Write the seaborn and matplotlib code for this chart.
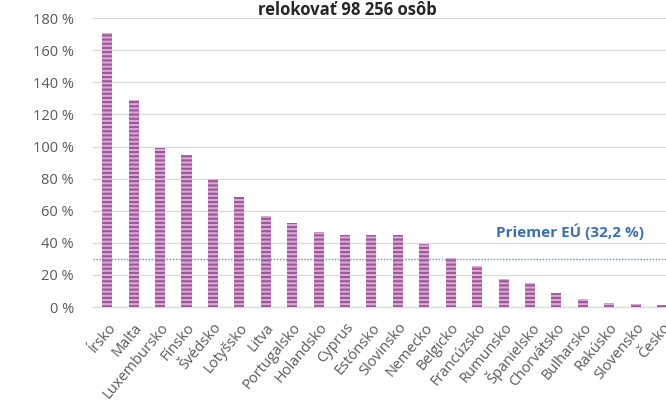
import matplotlib
matplotlib.use("Agg")
import matplotlib.pyplot as plt
import matplotlib.transforms as mtransforms
import seaborn as sns
import pandas as pd

countries = ["Írsko", "Malta", "Luxembursko", "Fínsko", "Švédsko", "Lotyšsko", "Litva",
             "Portugalsko", "Holandsko", "Cyprus", "Estónsko", "Slovinsko", "Nemecko",
             "Belgicko", "Francúzsko", "Rumunsko", "Španielsko", "Chorvátsko", "Bulharsko",
             "Rakúsko", "Slovensko", "Česko"]
values = [170.5, 129, 99, 95, 80, 68.5, 57, 52.5, 47, 45, 45, 45, 39,
          30.5, 25.5, 17.5, 15, 9, 5, 2.5, 2, 1]
eu_avg_line = 30
eu_avg_label = "Priemer EÚ (32,2 %)"
title_text = "relokovať 98 256 osôb"
yticks = [0, 20, 40, 60, 80, 100, 120, 140, 160, 180]

sns.set_theme(style="white")
plt.rcParams["font.family"] = ["Open Sans", "DejaVu Sans"]
plt.rcParams["hatch.linewidth"] = 1.5

df = pd.DataFrame({"country": countries, "value": values})

fig = plt.figure(figsize=(6.66, 4.03), dpi=100)
ax = fig.add_axes([0.14, 0.238, 0.86, 0.717])

sns.barplot(data=df, x="country", y="value", color="#d9aad5", width=0.38,
            saturation=1, ax=ax, zorder=3)
for p in ax.patches:
    p.set_hatch("----")
    p.set_edgecolor("#a0559b")
    p.set_linewidth(0)

ax.set_ylim(0, 180)
ax.set_xlim(-0.53, len(countries) - 1 + 0.15)
ax.set_yticks(yticks)
ax.set_yticklabels([f"{t} %" for t in yticks], fontsize=10.5, color="#595959")
ax.set_xticks(range(len(countries)))
ax.set_xticklabels(countries, rotation=50, ha="right", va="center",
                   rotation_mode="anchor", fontsize=10.5, color="#595959")
ax.tick_params(axis="y", length=0, pad=14)
ax.tick_params(axis="x", length=0, pad=13)
shift = mtransforms.ScaledTranslation(6 / 100, 0, fig.dpi_scale_trans)
for lbl in ax.get_xticklabels():
    lbl.set_transform(lbl.get_transform() + shift)
ax.set_xlabel("")
ax.set_ylabel("")

ax.grid(axis="y", color="#d9d9d9", linewidth=0.9, zorder=0)
for s in ["top", "right", "left"]:
    ax.spines[s].set_visible(False)
ax.spines["bottom"].set_color("#d9d9d9")
ax.spines["bottom"].set_linewidth(0.9)

ax.axhline(eu_avg_line, color="#5b8fd0", linestyle=(0, (1, 1.2)), linewidth=1.0, zorder=4)
ax.text(17.5, 47, eu_avg_label, ha="center", va="center", fontsize=11,
        fontweight="bold", color="#3a6fb5", zorder=5)

fig.text(0.522, 0.976, title_text, ha="center", va="center", fontsize=12,
         fontweight="bold", color="#262626")

fig.savefig("out.png", dpi=100, facecolor="white")
